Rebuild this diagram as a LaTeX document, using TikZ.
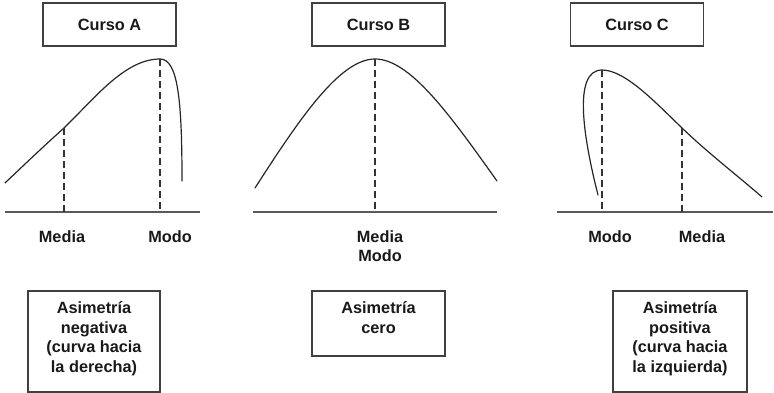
\documentclass[tikz,border=0pt]{standalone}
\usepackage{fontspec}
\setmainfont{Liberation Sans}
\newcommand\lblfont{\fontsize{16.3}{19.5}\selectfont\bfseries}
\begin{document}
\begin{tikzpicture}[x=1pt,y=-1pt,
  curve/.style={line width=1.2pt, draw=black!85, line cap=round},
  guide/.style={line width=1.1pt, draw=black!80, dash pattern=on 7pt off 4pt},
  axis/.style={line width=1.5pt, draw=black!65},
  titlebox/.style={draw=black!75, line width=1.2pt, minimum width=133pt, minimum height=43pt, inner sep=0pt, font=\lblfont, text=black!90},
  infobox/.style={draw=black!75, line width=1.2pt, inner sep=0pt},
  lbl/.style={font=\lblfont, inner sep=0pt, text=black!90},
  infotext/.style={lbl, align=center, anchor=north},
]
\useasboundingbox (0,0) rectangle (774,393);

% title boxes
\node[titlebox] (tA) at (109.5,24.5) {Curso A};
\node[titlebox] (tB) at (378.5,24.5) {Curso B};
\node[titlebox] (tC) at (637,24.5) {Curso C};

% ---------- Curso A ----------
\coordinate (aL) at (5,212);
\coordinate (aR) at (200,212);
\coordinate (aS) at (5,183);
\coordinate (aMe) at (64,128);
\coordinate (aMo) at (160,59);
\coordinate (aE) at (182,181);
\draw[axis] (aL) -- (aR);
\draw[curve] (aS) .. controls (25,164) and (45,145) .. (aMe)
  .. controls (95,98) and (125,59) .. (aMo)
  .. controls (178,59) and (182,100) .. (aE);
\draw[guide] (aMe) -- (aMe |- aL);
\draw[guide] (aMo) -- (aMo |- aL);
\node[lbl] (lAme) at (62,237) {Media};
\node[lbl] (lAmo) at (170,237) {Modo};

% ---------- Curso B ----------
\coordinate (bL) at (253,212);
\coordinate (bR) at (497,212);
\coordinate (bS) at (255,188);
\coordinate (bP) at (375,59);
\coordinate (bE) at (497,181);
\draw[axis] (bL) -- (bR);
\draw[curve] (bS) .. controls (300,118) and (340,59) .. (bP)
  .. controls (410,59) and (450,115) .. (bE);
\draw[guide] (bP) -- (bP |- bL);
\node[lbl] (lBme) at (380,237) {Media};
\node[lbl] (lBmo) at (380,256) {Modo};

% ---------- Curso C ----------
\coordinate (cL) at (557,212);
\coordinate (cR) at (773,212);
\coordinate (cS) at (598,195);
\coordinate (cMo) at (602,70);
\coordinate (cMe) at (682,128);
\coordinate (cE) at (762,197);
\draw[axis] (cL) -- (cR);
\draw[curve] (cS) .. controls (584,140) and (572,70) .. (cMo)
  .. controls (625,70) and (655,102) .. (cMe)
  .. controls (708,153) and (738,176) .. (cE);
\draw[guide] (cMo) -- (cMo |- cL);
\draw[guide] (cMe) -- (cMe |- cL);
\node[lbl] (lCmo) at (610,237) {Modo};
\node[lbl] (lCme) at (702,237) {Media};

% ---------- info boxes ----------
\node[infobox, minimum width=132pt, minimum height=101pt] (iA) at (94,341.5) {};
\node[infotext] (txA) at ([yshift=-11pt]iA.north) {Asimetría\\negativa\\(curva hacia\\la derecha)};
\node[infobox, minimum width=133pt, minimum height=65pt] (iB) at (378.5,323.5) {};
\node[infotext] (txB) at ([yshift=-11pt]iB.north) {Asimetría\\cero};
\node[infobox, minimum width=134pt, minimum height=101pt] (iC) at (680,341.5) {};
\node[infotext] (txC) at ([yshift=-11pt]iC.north) {Asimetría\\positiva\\(curva hacia\\la izquierda)};
\end{tikzpicture}
\end{document}
